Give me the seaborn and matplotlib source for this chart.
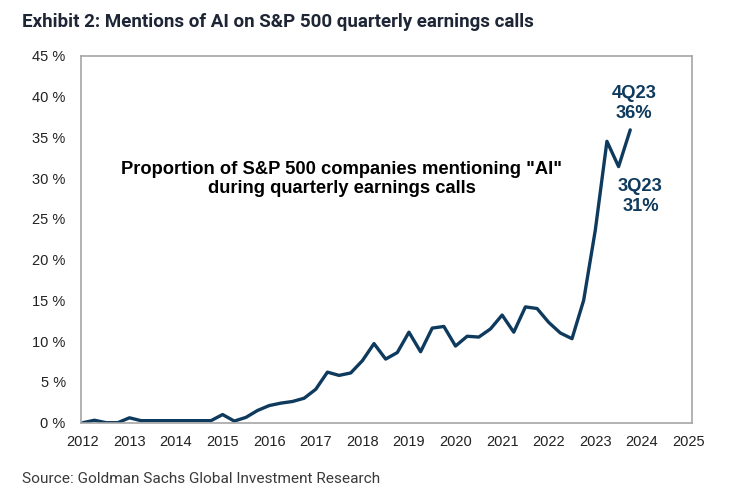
import pandas as pd
import matplotlib
matplotlib.use('Agg')
import matplotlib.pyplot as plt
import seaborn as sns

# quarterly share of S&P 500 companies mentioning "AI" (%), 1Q12 .. 4Q23
quarters = [2012 + i * 0.25 for i in range(48)]
share = [0.0, 0.3, 0.0, 0.0,
         0.6, 0.25, 0.25, 0.25,
         0.25, 0.25, 0.25, 0.25,
         1.0, 0.2, 0.65, 1.5,
         2.1, 2.4, 2.6, 3.0,
         4.1, 6.2, 5.8, 6.1,
         7.6, 9.7, 7.8, 8.6,
         11.1, 8.7, 11.6, 11.8,
         9.4, 10.6, 10.5, 11.5,
         13.2, 11.1, 14.2, 14.0,
         12.3, 11.0, 10.3, 15.0,
         23.6, 34.5, 31.4, 35.9]
year_ticks = list(range(2012, 2026))
pct_ticks = list(range(0, 50, 5))

df = pd.DataFrame({'quarter': quarters, 'share': share})

sns.set_style('white')
plt.rcParams['font.family'] = ['Liberation Sans', 'DejaVu Sans']

fig = plt.figure(figsize=(7.47, 4.88), dpi=100)
ax = fig.add_axes([0.1084, 0.1338, 0.8176, 0.7521])

navy = '#0e3a5e'
sns.lineplot(data=df, x='quarter', y='share', color=navy, linewidth=2.4, ax=ax)

ax.set_xlim(2011.96, 2025.07)
ax.set_ylim(0, 45)
ax.set_xticks(year_ticks)
ax.set_xticklabels([str(y) for y in year_ticks])
ax.set_yticks(pct_ticks)
ax.set_yticklabels([f'{p} %' for p in pct_ticks])
ax.tick_params(length=0, labelsize=10.5, colors='#222222')
ax.tick_params(axis='y', pad=11)
ax.tick_params(axis='x', pad=9)
ax.set_xlabel('')
ax.set_ylabel('')
for s in ax.spines.values():
    s.set_color('#a6a6a6')
    s.set_linewidth(1.2)

ax.text(2017.56, 29.9, 'Proportion of S&P 500 companies mentioning "AI"\nduring quarterly earnings calls',
        ha='center', va='center', fontsize=13.2, fontweight='bold', color='black', linespacing=1.15)
ax.text(2023.84, 39.1, f'4Q23\n{share[-1]:.0f}%', ha='center', va='center',
        fontsize=13.2, fontweight='bold', color=navy, linespacing=1.25)
ax.text(2023.97, 27.7, f'3Q23\n{share[-2]:.0f}%', ha='center', va='center',
        fontsize=13.2, fontweight='bold', color=navy, linespacing=1.25)

fig.text(0.029, 0.945, 'Exhibit 2: Mentions of AI on S&P 500 quarterly earnings calls',
         fontsize=13.5, fontweight='bold', color='#1e2636', family=['Roboto', 'DejaVu Sans'])
fig.text(0.029, 0.0184, 'Source: Goldman Sachs Global Investment Research', va='center',
         fontsize=11.1, color='#3a3a3a', family=['Roboto', 'DejaVu Sans'])

fig.savefig('out.png', dpi=100)
